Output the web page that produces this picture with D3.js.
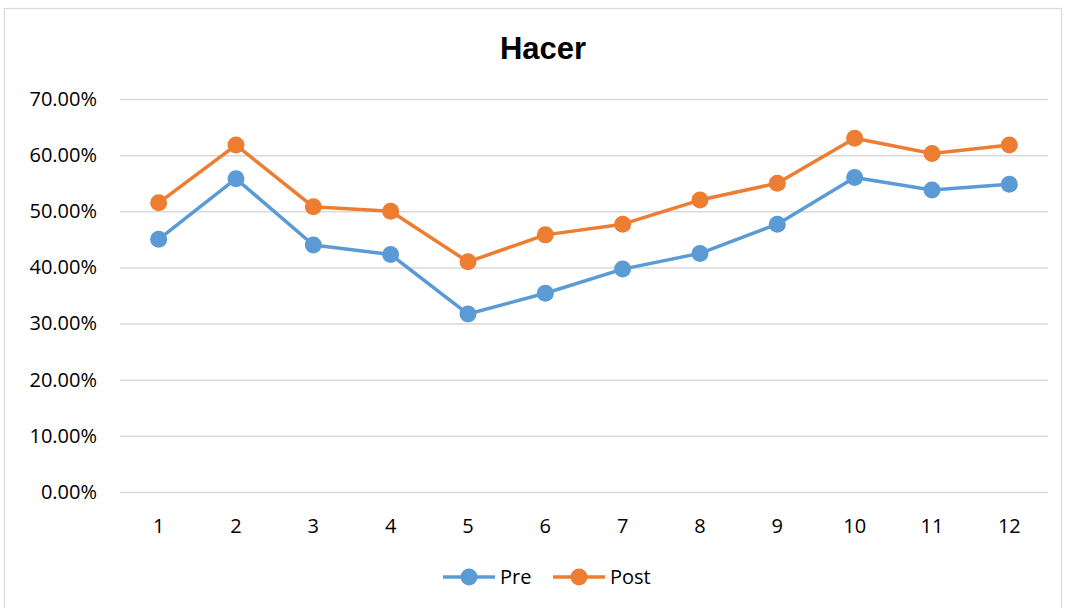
<!DOCTYPE html>
<html>
<head>
<meta charset="utf-8">
<script src="https://cdn.jsdelivr.net/npm/d3@7"></script>
<style>
  body { margin: 0; background: #fff; }
  text { font-family: "Open Sans", "Liberation Sans", sans-serif; }
</style>
</head>
<body>
<div class="bigvis"></div>
<script>
var categories = ["1", "2", "3", "4", "5", "6", "7", "8", "9", "10", "11", "12"]
var preValues = [0.450, 0.558, 0.440, 0.423, 0.317, 0.354, 0.397, 0.425, 0.477, 0.560, 0.538, 0.548]
var postValues = [0.515, 0.618, 0.508, 0.500, 0.410, 0.458, 0.477, 0.520, 0.550, 0.630, 0.603, 0.618]
var yTicks = [0, 0.1, 0.2, 0.3, 0.4, 0.5, 0.6, 0.7]
var seriesNames = ["Pre", "Post"]
var colors = ["#5B9BD5", "#ED7D31"]

var width = 1065
var height = 608
var margin = {top: 99, right: 17, left: 120, bottom: 116}
var innerW = width - margin.left - margin.right
var innerH = height - margin.top - margin.bottom

var svg = d3.select(".bigvis").append("svg")
    .attr("width", width)
    .attr("height", height)

// chart frame
svg.append("rect")
    .attr("x", 4.5).attr("y", 8.5)
    .attr("width", 1057).attr("height", 620)
    .attr("fill", "none")
    .attr("stroke", "#d9d9d9")
    .attr("stroke-width", 1.2)

svg.append("text")
    .attr("x", 543).attr("y", 59)
    .attr("text-anchor", "middle")
    .style("font-family", "'Liberation Sans', Arial, sans-serif")
    .style("font-weight", "bold")
    .style("font-size", "31px")
    .text("Hacer")

var g = svg.append("g")
    .attr("transform", "translate(" + margin.left + "," + margin.top + ")")

var x = d3.scaleBand().domain(categories).range([0, innerW])
var y = d3.scaleLinear().domain([0, 0.7]).range([innerH, 0])

var yAxis = g.append("g")
    .call(d3.axisLeft(y).tickValues(yTicks).tickSize(-innerW).tickPadding(23)
        .tickFormat(function(d){ return (d * 100).toFixed(2) + "%" }))
yAxis.select(".domain").remove()
yAxis.selectAll(".tick line").attr("stroke", "#d9d9d9").attr("stroke-width", 1.5)
yAxis.selectAll(".tick text")
    .attr("fill", "#000")
    .style("font-size", "20px")

var xAxis = g.append("g")
    .attr("transform", "translate(0," + innerH + ")")
    .call(d3.axisBottom(x).tickSize(0).tickPadding(27))
xAxis.select(".domain").remove()
xAxis.selectAll(".tick text")
    .attr("fill", "#000")
    .style("font-size", "20px")

var line = d3.line()
    .x(function(d, i){ return x(categories[i]) + x.bandwidth() / 2 })
    .y(function(d){ return y(d) })

var allSeries = [preValues, postValues]
allSeries.forEach(function(vals, s){
  g.append("path")
      .datum(vals)
      .attr("fill", "none")
      .attr("stroke", colors[s])
      .attr("stroke-width", 3.5)
      .attr("stroke-linejoin", "round")
      .attr("d", line)
  g.selectAll(".dot" + s)
      .data(vals)
    .enter().append("circle")
      .attr("class", "dot" + s)
      .attr("cx", function(d, i){ return x(categories[i]) + x.bandwidth() / 2 })
      .attr("cy", function(d){ return y(d) })
      .attr("r", 8.5)
      .attr("fill", colors[s])
})

// legend
var legend = svg.append("g").attr("transform", "translate(443,577)")
var legendX = [0, 110]
seriesNames.forEach(function(name, s){
  var lg = legend.append("g").attr("transform", "translate(" + legendX[s] + ",0)")
  lg.append("line")
      .attr("x1", 0).attr("x2", 52)
      .attr("stroke", colors[s]).attr("stroke-width", 3.5)
  lg.append("circle")
      .attr("cx", 26).attr("r", 8.5)
      .attr("fill", colors[s])
  lg.append("text")
      .attr("x", 57).attr("y", 7)
      .style("font-size", "20px")
      .text(name)
})
</script>
</body>
</html>
